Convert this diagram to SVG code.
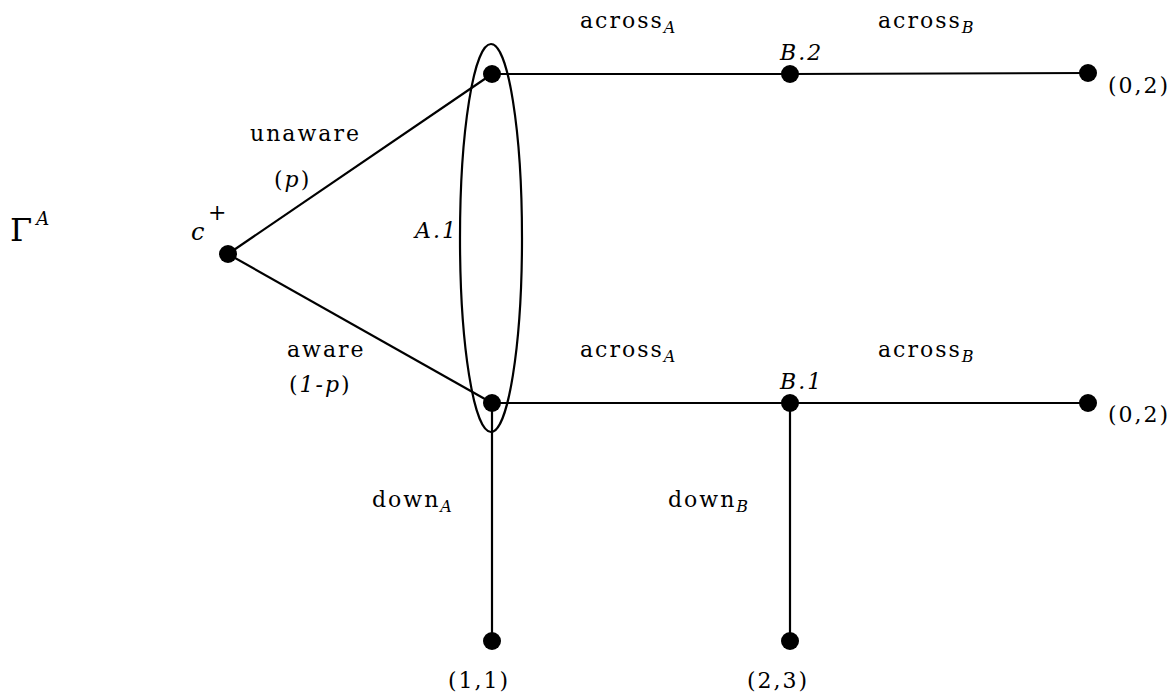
<svg xmlns="http://www.w3.org/2000/svg" width="1176" height="694" viewBox="0 0 1176 694">
<style>
text{font-family:"DejaVu Serif","Liberation Serif",serif;font-size:22px;letter-spacing:2px;fill:#000}
.it{font-style:italic}
.sub{font-size:16px;font-style:italic;letter-spacing:0}
.edge{stroke:#000;stroke-width:2.2;fill:none}
.dot{fill:#000}
</style>
<rect width="1176" height="694" fill="#fff"/>
<text x="10" y="241" style="font-size:32px;letter-spacing:0">Γ<tspan class="it" dx="4" dy="-16" style="font-size:18px">A</tspan></text>
<g id="connectors">
<line class="edge" x1="228" y1="254" x2="492" y2="74"/>
<line class="edge" x1="228" y1="254" x2="492" y2="403"/>
<line class="edge" x1="492" y1="74" x2="790" y2="74"/>
<line class="edge" x1="790" y1="74" x2="1088" y2="73"/>
<line class="edge" x1="492" y1="403" x2="790" y2="403"/>
<line class="edge" x1="790" y1="403" x2="1088" y2="403"/>
<line class="edge" x1="492" y1="403" x2="492" y2="641"/>
<line class="edge" x1="790" y1="403" x2="790" y2="641"/>
</g>
<g id="infoset-A1">
<ellipse class="edge" cx="491" cy="238" rx="31" ry="194"/>
<text class="it" x="415" y="238">A.1</text>
</g>
<g id="node-c">
<circle class="dot" cx="228" cy="254" r="9"/>
<text class="it" x="191" y="240" style="font-size:24px">c</text>
<text x="208" y="220">+</text>
</g>
<g id="edge-labels">
<text x="250" y="141">unaware</text>
<text x="274" y="187">(<tspan class="it">p</tspan>)</text>
<text x="287" y="357">aware</text>
<text x="289" y="392">(<tspan class="it">1-p</tspan>)</text>
<text x="580" y="28">across<tspan class="sub" dy="5">A</tspan></text>
<text x="878" y="28">across<tspan class="sub" dy="5">B</tspan></text>
<text x="580" y="357">across<tspan class="sub" dy="5">A</tspan></text>
<text x="878" y="357">across<tspan class="sub" dy="5">B</tspan></text>
<text x="372" y="507">down<tspan class="sub" dy="5">A</tspan></text>
<text x="668" y="507">down<tspan class="sub" dy="5">B</tspan></text>
</g>
<g id="node-A1-top"><circle class="dot" cx="492" cy="74" r="9"/></g>
<g id="node-A1-bottom"><circle class="dot" cx="492" cy="403" r="9"/></g>
<g id="node-B2">
<circle class="dot" cx="790" cy="74" r="9"/>
<text class="it" x="780" y="60">B.2</text>
</g>
<g id="node-B1">
<circle class="dot" cx="790" cy="403" r="9"/>
<text class="it" x="780" y="389">B.1</text>
</g>
<g id="term-top">
<circle class="dot" cx="1088" cy="73" r="9"/>
<text x="1108" y="93">(0,2)</text>
</g>
<g id="term-mid">
<circle class="dot" cx="1088" cy="403" r="9"/>
<text x="1108" y="422">(0,2)</text>
</g>
<g id="term-11">
<circle class="dot" cx="492" cy="641" r="9"/>
<text x="448" y="688">(1,1)</text>
</g>
<g id="term-23">
<circle class="dot" cx="790" cy="641" r="9"/>
<text x="747" y="688">(2,3)</text>
</g>
</svg>
